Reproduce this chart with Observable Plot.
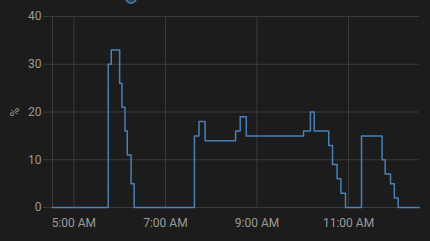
<!DOCTYPE html>
<html>
<head>
<meta charset="utf-8">
<script src="https://cdn.jsdelivr.net/npm/d3@7"></script>
<script src="https://cdn.jsdelivr.net/npm/@observablehq/plot@0.6"></script>
<style>
  html, body { margin: 0; padding: 0; background: #1c1c1c; overflow: hidden; }
  #wrap { position: relative; width: 430px; height: 241px; }
  #legend-dot { position: absolute; top: -8px; left: 125px; width: 8px; height: 8px; border-radius: 50%; border: 2px solid #44739e; background: #2a3a4a; }
</style>
</head>
<body>
<div id="wrap"><span id="legend-dot"></span></div>
<script>
const times = ["04:32","05:45","05:49","06:00","06:03","06:07","06:10","06:15","06:19","07:38","07:44","07:52","08:32","08:38","08:46","10:01","10:10","10:15","10:34","10:39","10:45","10:50","10:56","11:17","11:44","11:48","11:55","12:00","12:05","12:33"];
const values = [0,30,33,26,21,16,11,5,0,15,18,14,16,19,15,16,20,16,13,9,6,3,0,15,10,7,5,2,0,0];
const xDomain = ["04:32","12:33"];
const yTicks = [0,10,20,30,40];
const xTicks = ["05:00","07:00","09:00","11:00"];

const day = "2024-01-01T";
const toDate = s => new Date(day + s + ":00Z");
const data = times.map((t, i) => ({time: toDate(t), value: values[i]}));
const fmt = d3.utcFormat("%-I:%M %p");

const grid = "#3b3b3b";
const text = "#9a9a9a";

const chart = Plot.plot({
  width: 430,
  height: 241,
  marginLeft: 52,
  marginRight: 11,
  marginTop: 16,
  marginBottom: 34,
  style: {background: "#1c1c1c", color: text, fontFamily: "Roboto, sans-serif", fontSize: "12px"},
  x: {type: "utc", domain: xDomain.map(toDate)},
  y: {domain: [0, 40]},
  marks: [
    Plot.gridY(yTicks, {stroke: grid, strokeOpacity: 1, strokeWidth: 1}),
    Plot.gridX(xTicks.map(toDate), {stroke: grid, strokeOpacity: 1, strokeWidth: 1}),
    Plot.ruleX([xDomain.map(toDate)[0]], {stroke: grid, strokeWidth: 1}),
    Plot.axisY(yTicks, {tickSize: 9, tickPadding: 2, stroke: grid, fill: text, fontSize: 12, label: "%", labelAnchor: "center", labelArrow: "none", labelOffset: 42}),
    Plot.axisX(xTicks.map(toDate), {tickSize: 0, tickPadding: 11, fill: text, fontSize: 12, tickFormat: fmt, label: null}),
    Plot.line(data, {x: "time", y: "value", curve: "step-after", stroke: "#4a80b6", strokeWidth: 1.5})
  ]
});
document.getElementById("wrap").appendChild(chart);
</script>
</body>
</html>
